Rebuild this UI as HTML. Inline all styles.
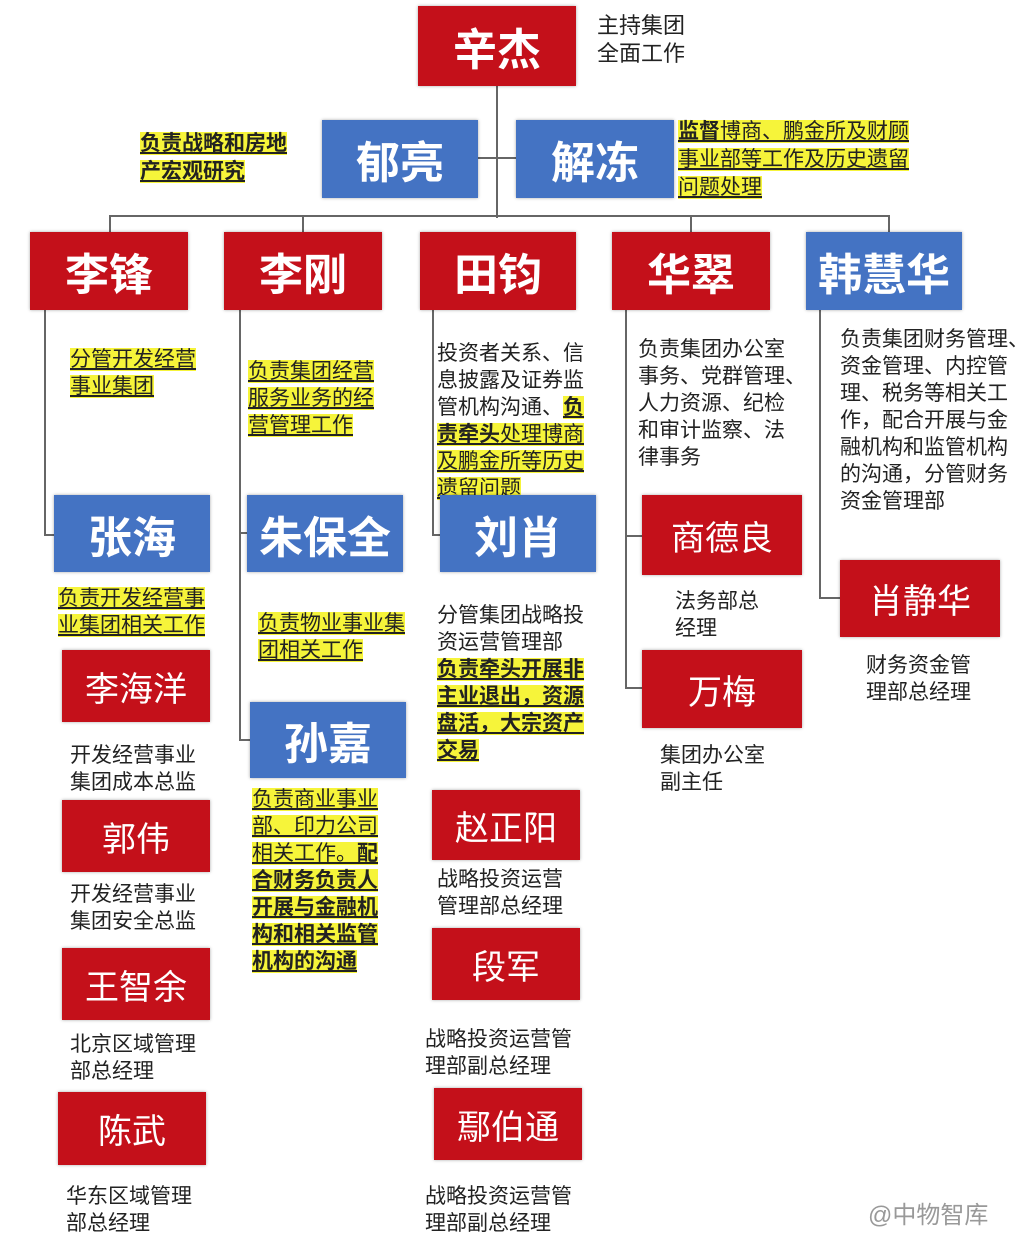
<!DOCTYPE html>
<html><head><meta charset="utf-8"><style>
body{margin:0;width:1024px;height:1243px;background:#fff;position:relative;overflow:hidden;font-family:"Liberation Sans","Noto Sans CJK SC",sans-serif;}
.b{position:absolute;display:flex;align-items:center;justify-content:center;color:#fff;box-shadow:0 0 3px rgba(0,0,0,.35);}
.r{background:#c4101a;}
.u{background:#4473c3;}
.big{font-size:44px;font-weight:bold;}
.sm{font-size:34px;}
.t{position:absolute;font-size:21px;line-height:27px;color:#222;white-space:nowrap;}
.y{background:#f6f43a;text-decoration:underline;}
.bo{font-weight:bold;}
.l{position:absolute;background:#666;}
</style></head><body>
<!-- lines -->
<div class="l" style="left:496px;top:86px;width:2px;height:132px"></div>
<div class="l" style="left:478px;top:157px;width:38px;height:2px"></div>
<div class="l" style="left:109px;top:215px;width:781px;height:2px"></div>
<div class="l" style="left:109px;top:215px;width:2px;height:18px"></div>
<div class="l" style="left:302px;top:215px;width:2px;height:18px"></div>
<div class="l" style="left:690px;top:215px;width:2px;height:18px"></div>
<div class="l" style="left:888px;top:215px;width:2px;height:18px"></div>
<div class="l" style="left:44px;top:310px;width:2px;height:225px"></div>
<div class="l" style="left:44px;top:534px;width:10px;height:2px"></div>
<div class="l" style="left:239px;top:310px;width:2px;height:430px"></div>
<div class="l" style="left:239px;top:532px;width:8px;height:2px"></div>
<div class="l" style="left:239px;top:739px;width:11px;height:2px"></div>
<div class="l" style="left:432px;top:310px;width:2px;height:225px"></div>
<div class="l" style="left:432px;top:534px;width:8px;height:2px"></div>
<div class="l" style="left:625px;top:310px;width:2px;height:378px"></div>
<div class="l" style="left:625px;top:535px;width:17px;height:2px"></div>
<div class="l" style="left:625px;top:687px;width:17px;height:2px"></div>
<div class="l" style="left:819px;top:310px;width:2px;height:288px"></div>
<div class="l" style="left:819px;top:597px;width:21px;height:2px"></div>

<!-- top -->
<div class="b r big" style="left:418px;top:6px;width:158px;height:80px">辛杰</div>
<div class="t" style="left:597px;top:12px;font-size:22px;line-height:28px">主持集团<br>全面工作</div>
<div class="b u big" style="left:322px;top:120px;width:156px;height:78px">郁亮</div>
<div class="b u big" style="left:516px;top:120px;width:158px;height:78px">解冻</div>
<div class="t bo" style="left:140px;top:130px;line-height:28px"><span class="y">负责战略和房地</span><br><span class="y">产宏观研究</span></div>
<div class="t" style="left:678px;top:118px;line-height:28px"><span class="y"><b>监督</b>博商、鹏金所及财顾</span><br><span class="y">事业部等工作及历史遗留</span><br><span class="y">问题处理</span></div>

<!-- row2 -->
<div class="b r big" style="left:30px;top:232px;width:158px;height:78px">李锋</div>
<div class="b r big" style="left:224px;top:232px;width:158px;height:78px">李刚</div>
<div class="b r big" style="left:420px;top:232px;width:156px;height:78px">田钧</div>
<div class="b r big" style="left:612px;top:232px;width:158px;height:78px">华翠</div>
<div class="b u big" style="left:806px;top:232px;width:156px;height:78px">韩慧华</div>

<div class="t" style="left:70px;top:346px"><span class="y">分管开发经营</span><br><span class="y">事业集团</span></div>
<div class="t" style="left:248px;top:358px"><span class="y">负责集团经营</span><br><span class="y">服务业务的经</span><br><span class="y">营管理工作</span></div>
<div class="t" style="left:437px;top:340px">投资者关系、信<br>息披露及证券监<br>管机构沟通、<span class="y bo">负</span><br><span class="y"><b>责牵头</b>处理博商</span><br><span class="y">及鹏金所等历史</span><br><span class="y">遗留问题</span></div>
<div class="t" style="left:638px;top:336px">负责集团办公室<br>事务、党群管理、<br>人力资源、纪检<br>和审计监察、法<br>律事务</div>
<div class="t" style="left:840px;top:326px">负责集团财务管理、<br>资金管理、内控管<br>理、税务等相关工<br>作，配合开展与金<br>融机构和监管机构<br>的沟通，分管财务<br>资金管理部</div>

<!-- row3 -->
<div class="b u big" style="left:54px;top:495px;width:156px;height:77px">张海</div>
<div class="b u big" style="left:247px;top:495px;width:156px;height:77px">朱保全</div>
<div class="b u big" style="left:440px;top:495px;width:156px;height:77px">刘肖</div>
<div class="b r sm" style="left:642px;top:495px;width:160px;height:80px">商德良</div>
<div class="b r sm" style="left:642px;top:650px;width:160px;height:78px">万梅</div>
<div class="b r sm" style="left:840px;top:560px;width:160px;height:77px">肖静华</div>
<div class="t" style="left:675px;top:588px">法务部总<br>经理</div>
<div class="t" style="left:660px;top:742px">集团办公室<br>副主任</div>
<div class="t" style="left:866px;top:652px">财务资金管<br>理部总经理</div>

<div class="t" style="left:58px;top:585px"><span class="y">负责开发经营事</span><br><span class="y">业集团相关工作</span></div>
<div class="b r sm" style="left:62px;top:650px;width:148px;height:72px">李海洋</div>
<div class="t" style="left:70px;top:742px">开发经营事业<br>集团成本总监</div>
<div class="b r sm" style="left:62px;top:800px;width:148px;height:72px">郭伟</div>
<div class="t" style="left:70px;top:881px">开发经营事业<br>集团安全总监</div>
<div class="b r sm" style="left:62px;top:948px;width:148px;height:72px">王智余</div>
<div class="t" style="left:70px;top:1031px">北京区域管理<br>部总经理</div>
<div class="b r sm" style="left:58px;top:1092px;width:148px;height:73px">陈武</div>
<div class="t" style="left:66px;top:1183px">华东区域管理<br>部总经理</div>

<div class="t" style="left:258px;top:610px"><span class="y">负责物业事业集</span><br><span class="y">团相关工作</span></div>
<div class="b u big" style="left:250px;top:702px;width:156px;height:76px">孙嘉</div>
<div class="t" style="left:252px;top:786px"><span class="y">负责商业事业</span><br><span class="y">部、印力公司</span><br><span class="y">相关工作。<b>配</b></span><br><span class="y bo">合财务负责人</span><br><span class="y bo">开展与金融机</span><br><span class="y bo">构和相关监管</span><br><span class="y bo">机构的沟通</span></div>

<div class="t" style="left:437px;top:602px">分管集团战略投<br>资运营管理部<br><span class="y bo">负责牵头开展非</span><br><span class="y bo">主业退出，资源</span><br><span class="y bo">盘活，大宗资产</span><br><span class="y bo">交易</span></div>
<div class="b r sm" style="left:432px;top:790px;width:148px;height:70px">赵正阳</div>
<div class="t" style="left:437px;top:866px">战略投资运营<br>管理部总经理</div>
<div class="b r sm" style="left:432px;top:928px;width:148px;height:72px">段军</div>
<div class="t" style="left:425px;top:1026px">战略投资运营管<br>理部副总经理</div>
<div class="b r sm" style="left:434px;top:1088px;width:148px;height:72px">鄢伯通</div>
<div class="t" style="left:425px;top:1183px">战略投资运营管<br>理部副总经理</div>

<div class="t" style="left:868px;top:1202px;font-size:24px;color:#999">@中物智库</div>
</body></html>
